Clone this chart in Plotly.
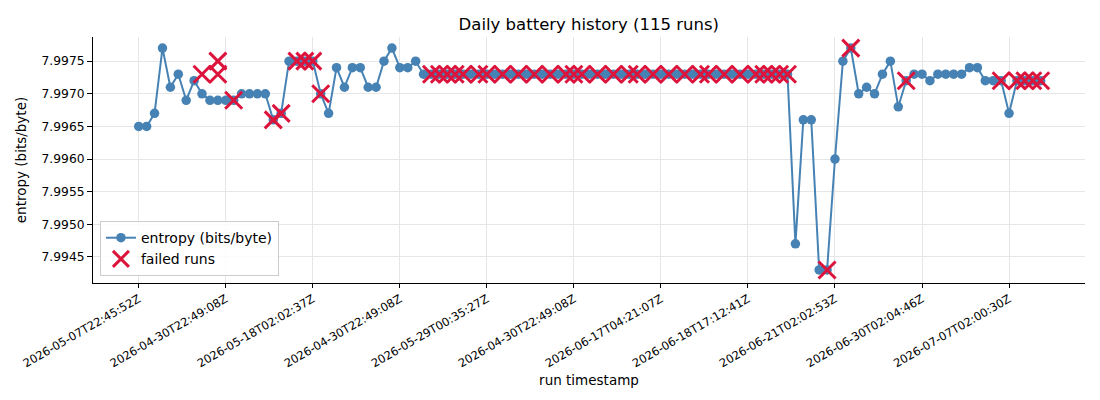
import plotly.graph_objects as go

# ---- data ----
run_index = list(range(115))
entropy = [
    7.9965, 7.9965, 7.9967, 7.9977, 7.9971, 7.9973, 7.9969, 7.9972, 7.9970, 7.9969,
    7.9969, 7.9969, 7.9969, 7.9970, 7.9970, 7.9970, 7.9970, 7.9966, 7.9967, 7.9975,
    7.9975, 7.9975, 7.9975, 7.9970, 7.9967, 7.9974, 7.9971, 7.9974, 7.9974, 7.9971,
    7.9971, 7.9975, 7.9977, 7.9974, 7.9974, 7.9975, 7.9973, 7.9973, 7.9973, 7.9973,
    7.9973, 7.9973, 7.9973, 7.9973, 7.9973, 7.9973, 7.9973, 7.9973, 7.9973, 7.9973,
    7.9973, 7.9973, 7.9973, 7.9973, 7.9973, 7.9973, 7.9973, 7.9973, 7.9973, 7.9973,
    7.9973, 7.9973, 7.9973, 7.9973, 7.9973, 7.9973, 7.9973, 7.9973, 7.9973, 7.9973,
    7.9973, 7.9973, 7.9973, 7.9973, 7.9973, 7.9973, 7.9973, 7.9973, 7.9973, 7.9973,
    7.9973, 7.9973, 7.9973, 7.9947, 7.9966, 7.9966, 7.9943, 7.9943, 7.9960, 7.9975,
    7.9977, 7.9970, 7.9971, 7.9970, 7.9973, 7.9975, 7.9968, 7.9972, 7.9973, 7.9973,
    7.9972, 7.9973, 7.9973, 7.9973, 7.9973, 7.9974, 7.9974, 7.9972, 7.9972, 7.9972,
    7.9967, 7.9972, 7.9972, 7.9972, 7.9972,
]

failed_index = [
    8, 10, 10, 12, 17, 18, 20, 21, 22, 23,
    37, 38, 39, 40, 41, 43, 44, 46, 48, 50,
    52, 54, 55, 56, 58, 60, 62, 63, 65, 67,
    69, 71, 72, 74, 76, 78, 79, 80, 81, 82,
    87, 90, 97, 109, 111, 112, 113, 114,
]
failed_entropy = [
    7.9973, 7.9975, 7.9973, 7.9969, 7.9966, 7.9967, 7.9975, 7.9975, 7.9975, 7.9970,
    7.9973, 7.9973, 7.9973, 7.9973, 7.9973, 7.9973, 7.9973, 7.9973, 7.9973, 7.9973,
    7.9973, 7.9973, 7.9973, 7.9973, 7.9973, 7.9973, 7.9973, 7.9973, 7.9973, 7.9973,
    7.9973, 7.9973, 7.9973, 7.9973, 7.9973, 7.9973, 7.9973, 7.9973, 7.9973, 7.9973,
    7.9943, 7.9977, 7.9972, 7.9972, 7.9972, 7.9972, 7.9972, 7.9972,
]

tick_positions = [0, 11, 22, 33, 44, 55, 66, 77, 88, 99, 110]
tick_labels = [
    "2026-05-07T22:45:52Z", "2026-04-30T22:49:08Z", "2026-05-18T02:02:37Z",
    "2026-04-30T22:49:08Z", "2026-05-29T00:35:27Z", "2026-04-30T22:49:08Z",
    "2026-06-17T04:21:07Z", "2026-06-18T17:12:41Z", "2026-06-21T02:02:53Z",
    "2026-06-30T02:04:46Z", "2026-07-07T02:00:30Z",
]
y_ticks = [7.9945, 7.9950, 7.9955, 7.9960, 7.9965, 7.9970, 7.9975]

FONT = "DejaVu Sans"
BLUE = "#4682B4"
RED = "#DC143C"

fig = go.Figure()
fig.add_trace(go.Scatter(
    x=run_index, y=entropy, mode="lines+markers",
    name="entropy (bits/byte)",
    line=dict(color=BLUE, width=2),
    marker=dict(color=BLUE, size=9.5, symbol="circle"),
))
fig.add_trace(go.Scatter(
    x=failed_index, y=failed_entropy, mode="markers",
    name="failed runs",
    marker=dict(symbol="x-thin", size=17, color=RED,
                line=dict(color=RED, width=3)),
))

# page body adds an 8px offset; margins compensate for it
fig.update_layout(
    width=1100, height=400,
    margin=dict(l=85, r=23, t=29, b=125),
    paper_bgcolor="white", plot_bgcolor="white",
    font=dict(family=FONT, color="black", size=13),
    title=dict(text="Daily battery history (115 runs)", x=0.528, xanchor="center",
               y=0.96, yanchor="middle", font=dict(size=16.5, family=FONT)),
    showlegend=True,
    legend=dict(x=0.007, y=0.028, xanchor="left", yanchor="bottom",
                bgcolor="rgba(255,255,255,0.85)", bordercolor="#cccccc", borderwidth=1,
                font=dict(size=14, family=FONT), tracegroupgap=2),
)
fig.update_xaxes(
    range=[-5.78, 119.6], automargin=False,
    tickmode="array", tickvals=tick_positions, ticktext=tick_labels,
    tickangle=-30, tickfont=dict(size=11.5, family=FONT),
    ticks="outside", ticklen=4, tickcolor="black", tickwidth=1,
    showline=True, linecolor="black", linewidth=1, mirror=False,
    showgrid=True, gridcolor="#e6e6e6", gridwidth=1, zeroline=False,
    title=dict(text="run timestamp", font=dict(size=13.5, family=FONT), standoff=6),
)
fig.update_yaxes(
    range=[7.99410, 7.99787], automargin=False,
    tickmode="array", tickvals=y_ticks, ticktext=[f"{v:.4f}" for v in y_ticks],
    tickfont=dict(size=12.3, family=FONT),
    ticks="outside", ticklen=5, tickcolor="black", tickwidth=1,
    showline=True, linecolor="black", linewidth=1, mirror=False,
    showgrid=True, gridcolor="#e6e6e6", gridwidth=1, zeroline=False,
    title=dict(text="entropy (bits/byte)", font=dict(size=13.5, family=FONT), standoff=11),
)

fig.write_html("out.html")
